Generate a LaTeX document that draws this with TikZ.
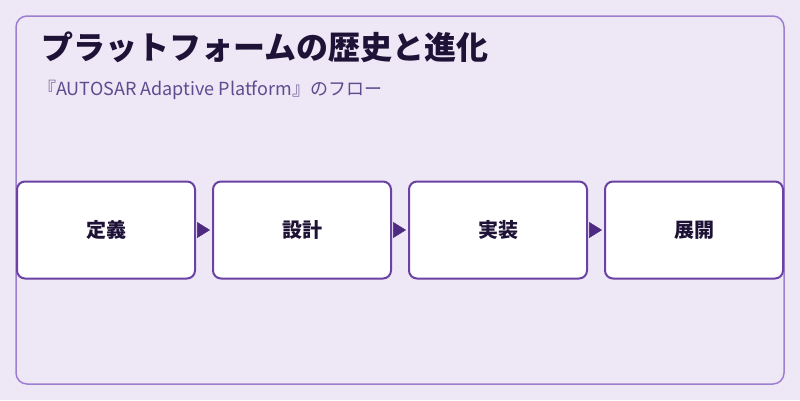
\documentclass[tikz,border=0pt]{standalone}
\usepackage{fontspec}
\setmainfont{Noto Sans CJK JP}
\usetikzlibrary{arrows.meta,positioning}
\definecolor{pagebg}{HTML}{EDE7F6}
\definecolor{framec}{HTML}{9C7FD0}
\definecolor{boxc}{HTML}{6B42A3}
\definecolor{tipc}{HTML}{4E2A80}
\definecolor{titlec}{HTML}{1E1236}
\definecolor{subc}{HTML}{5E4C8E}
\tikzset{
	stepbox/.style={draw=boxc, line width=2pt, fill=white, rounded corners=8pt,
		minimum width=178pt, minimum height=97pt, inner sep=0pt,
		font=\fontsize{20}{22}\selectfont\bfseries, text=titlec},
	flow/.style={draw=tipc, fill=tipc, line width=0.5pt, -{Triangle[length=13pt,width=16pt]}}
}

\begin{document}
\begin{tikzpicture}[x=1pt, y=-1pt, node distance=16pt]
		%%%%% START %%%%%
		
		\fill[pagebg] (0, 0) rectangle (800, 400);
		\useasboundingbox (0, 0) rectangle (800, 400);
		\draw[framec, line width=1.5pt, rounded corners=11pt] (16, 16) rectangle (784, 384);
		
		\node[anchor=base west, inner sep=0pt, text=titlec, font=\fontsize{32}{34}\selectfont\bfseries] (title) at (41, 59) {プラットフォームの歴史と進化};
		\node[anchor=base west, inner sep=0pt, text=subc, font=\fontsize{18}{20}\selectfont] (subtitle) at (38, 95) {『AUTOSAR Adaptive Platform』のフロー};
		
		\node[stepbox] (define) at (106, 230) {定義};
		\node[stepbox, right=of define] (design) {設計};
		\node[stepbox, right=of design] (build) {実装};
		\node[stepbox, right=of build] (deploy) {展開};
		
		\draw[flow] ([xshift=1pt]define.east) -- ([xshift=-2pt]design.west);
		\draw[flow] ([xshift=1pt]design.east) -- ([xshift=-2pt]build.west);
		\draw[flow] ([xshift=1pt]build.east) -- ([xshift=-2pt]deploy.west);
		
		%%%%% END %%%%%
	\end{tikzpicture}
\end{document}
